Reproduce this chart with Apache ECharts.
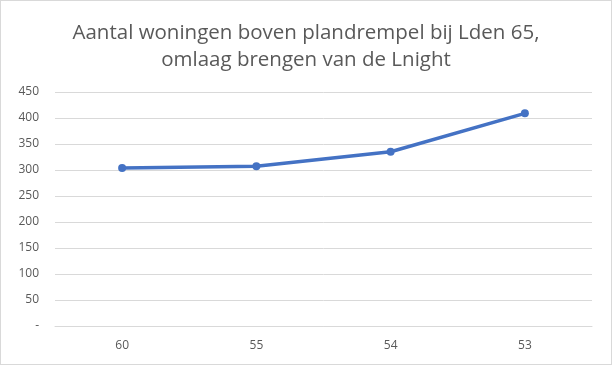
<!DOCTYPE html>
<html>
<head>
<meta charset="utf-8">
<script src="https://cdn.jsdelivr.net/npm/echarts@6/dist/echarts.min.js"></script>
<style>
html,body{margin:0;padding:0;background:#fff;}
#c{width:610px;height:363px;border:1px solid #d9d9d9;}
</style>
</head>
<body>
<div id="c"></div>
<script>
const titleText = "Aantal woningen boven plandrempel bij Lden 65,\nomlaag brengen van de Lnight";
const categories = ["60", "55", "54", "53"];
const values = [304, 307, 335, 409];
const yMin = 0, yMax = 450, yStep = 50;

const chart = echarts.init(document.getElementById('c'), null, {renderer: 'canvas'});
chart.setOption({
  animation: false,
  backgroundColor: '#fff',
  title: {
    text: titleText,
    left: 'center',
    top: 14,
    textStyle: {fontFamily: 'Open Sans', fontSize: 20.5, fontWeight: 'normal', color: '#595959', lineHeight: 26.5}
  },
  grid: {left: 54, right: 19, top: 91, bottom: 38},
  xAxis: {
    type: 'category',
    data: categories,
    boundaryGap: true,
    axisLine: {lineStyle: {color: '#d9d9d9', width: 1}},
    axisTick: {show: false},
    axisLabel: {color: '#595959', fontSize: 12, fontFamily: 'Open Sans', margin: 14}
  },
  yAxis: {
    type: 'value',
    min: yMin, max: yMax, interval: yStep,
    axisLine: {show: false},
    axisTick: {show: false},
    splitLine: {lineStyle: {color: '#d9d9d9', width: 1}},
    axisLabel: {
      color: '#595959', fontSize: 12, fontFamily: 'Open Sans', margin: 16,
      formatter: v => v === 0 ? '-' : String(v)
    }
  },
  series: [{
    type: 'line',
    data: values,
    symbol: 'circle',
    symbolSize: 8,
    lineStyle: {color: '#4472C4', width: 3.5},
    itemStyle: {color: '#4472C4'}
  }]
});
</script>
</body>
</html>
